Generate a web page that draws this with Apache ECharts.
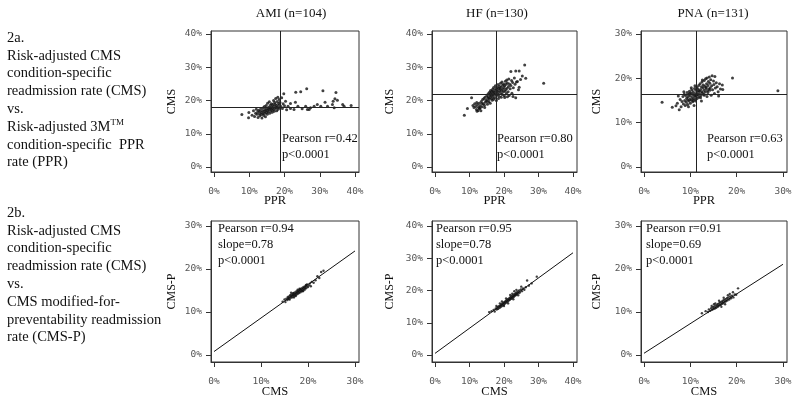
<!DOCTYPE html>
<html><head><meta charset="utf-8">
<script src="https://cdn.jsdelivr.net/npm/echarts@6/dist/echarts.min.js"></script>
<style>html,body{margin:0;padding:0;background:#fff}#c{width:800px;height:402px}</style>
</head><body><div id="c"></div>
<script>
// ---------------- DATA ----------------
const conditionTitles = ['AMI (n=104)', 'HF (n=130)', 'PNA (n=131)'];
const topXMax = [40, 40, 30];
const topYMax = [40, 40, 30];
const botXMax = [30, 40, 30];
const botYMax = [30, 40, 30];
const tickStep = 10;
const topXName = 'PPR', topYName = 'CMS', botXName = 'CMS', botYName = 'CMS-P';

// 2a: [PPR %, CMS %]
const amiTop = [[7.9,15.8],[9.8,14.8],[9.9,16.4],[10.8,15.6],[11.2,16.9],[11.5,15.2],[11.8,16.2],[12.0,17.4],[12.2,15.9],[12.4,16.6],[12.5,14.9],[12.7,17.1],[12.9,16.1],[13.0,15.4],[13.1,16.8],[13.3,17.6],[13.4,15.8],[13.5,16.4],[13.6,14.7],[13.8,17.0],[13.9,16.0],[14.0,17.8],[14.1,15.5],[14.2,16.7],[14.3,18.2],[14.4,16.2],[14.5,17.3],[14.6,15.1],[14.7,16.9],[14.8,18.5],[14.9,16.4],[15.0,17.6],[15.1,15.9],[15.2,19.2],[15.3,17.1],[15.4,16.6],[15.5,18.0],[15.6,17.4],[15.7,19.6],[15.8,16.2],[15.9,17.8],[16.0,18.6],[16.1,16.9],[16.2,17.4],[16.3,19.0],[16.4,18.1],[16.5,16.5],[16.6,17.7],[16.7,18.8],[16.8,17.2],[16.9,20.0],[17.0,18.3],[17.1,16.8],[17.2,19.4],[17.3,17.6],[17.4,18.9],[17.5,20.6],[17.6,17.9],[17.7,18.5],[17.8,16.9],[17.9,19.7],[18.0,18.0],[18.1,21.0],[18.2,17.4],[18.3,19.1],[18.4,18.6],[18.5,20.3],[18.6,17.8],[18.7,19.5],[19.0,18.2],[19.2,20.8],[19.4,17.6],[19.6,19.0],[19.8,22.0],[20.0,18.4],[20.3,19.8],[20.6,17.2],[21.0,18.3],[21.7,19.1],[21.7,17.6],[22.7,17.3],[23.1,19.5],[23.2,22.5],[23.8,18.3],[24.6,22.6],[25.0,17.5],[26.0,18.3],[26.3,23.5],[26.5,17.3],[27.0,17.3],[27.4,17.8],[28.4,18.3],[29.3,18.8],[30.3,18.3],[30.9,22.9],[31.5,19.5],[32.2,18.3],[33.6,18.8],[33.8,19.8],[34.1,17.8],[34.3,20.5],[34.6,22.4],[35.0,20.1],[36.5,18.8],[36.9,18.3],[38.9,18.5]];
const hfTop = [[8.5,15.6],[9.4,17.6],[10.6,20.8],[11.0,18.5],[11.3,17.9],[11.5,19.0],[11.8,18.2],[12.0,17.3],[12.1,19.4],[12.3,18.7],[12.5,17.0],[12.6,18.0],[12.8,19.2],[12.9,17.6],[13.1,18.4],[13.3,16.9],[13.4,19.7],[13.6,18.1],[13.8,20.3],[14.0,19.0],[14.2,20.6],[14.3,18.6],[14.5,21.0],[14.6,19.5],[14.8,20.1],[15.0,21.4],[15.1,19.8],[15.3,20.7],[15.4,22.0],[15.5,21.1],[15.7,20.4],[15.8,22.5],[15.9,21.7],[16.0,20.9],[16.1,23.0],[16.2,22.2],[16.3,21.4],[16.4,20.6],[16.5,22.8],[16.6,21.9],[16.7,23.4],[16.8,21.2],[16.9,22.6],[17.0,23.9],[17.1,21.8],[17.2,22.4],[17.3,20.8],[17.4,23.1],[17.5,24.4],[17.6,22.0],[17.7,23.6],[17.8,21.5],[17.9,22.8],[18.0,24.0],[18.1,23.2],[18.2,21.9],[18.3,24.8],[18.4,22.5],[18.5,23.7],[18.6,21.3],[18.7,24.3],[18.8,22.9],[18.9,23.5],[19.0,25.2],[19.1,22.2],[19.2,24.0],[19.3,23.0],[19.4,25.6],[19.5,21.8],[19.6,24.6],[19.7,23.4],[19.8,22.6],[19.9,25.0],[20.0,23.9],[20.1,21.4],[20.2,24.4],[20.3,22.8],[20.4,25.8],[20.5,23.3],[20.6,24.9],[20.7,22.1],[20.8,26.2],[20.9,23.7],[21.0,25.3],[21.2,22.6],[21.3,24.2],[21.4,26.5],[21.5,21.5],[21.6,25.0],[21.8,23.5],[22.0,28.7],[22.0,24.5],[22.2,26.0],[22.3,22.2],[22.5,25.4],[22.7,23.8],[23.0,26.8],[23.2,24.9],[23.4,28.9],[23.4,20.8],[23.6,25.6],[23.9,25.7],[24.2,23.2],[24.4,24.0],[24.4,28.9],[24.8,26.3],[25.3,27.4],[26.0,30.7],[26.3,26.7],[31.5,25.2],[12.2,16.8],[13.0,17.7],[13.6,19.1],[14.4,17.9],[15.2,18.9],[15.6,19.6],[16.0,19.2],[16.6,20.1],[17.0,20.4],[17.8,20.0],[18.4,20.6],[19.2,21.0],[20.2,20.9],[21.0,21.1],[22.6,21.2]];
const pnaTop = [[3.9,14.6],[6.1,13.5],[6.9,13.8],[7.6,12.9],[7.2,14.4],[7.8,15.2],[8.0,13.6],[8.2,14.8],[8.4,15.9],[8.5,14.2],[8.7,16.4],[8.8,15.0],[8.9,13.9],[9.0,16.1],[9.1,14.6],[9.2,15.5],[9.3,16.8],[9.4,14.1],[9.5,15.8],[9.6,16.3],[9.7,14.9],[9.8,17.1],[9.9,15.3],[10.0,16.0],[10.0,14.4],[10.1,16.7],[10.2,15.1],[10.3,17.4],[10.4,15.7],[10.5,16.4],[10.5,14.7],[10.6,17.0],[10.7,15.4],[10.8,16.2],[10.9,17.7],[11.0,15.9],[11.0,16.6],[11.1,14.9],[11.2,17.3],[11.3,16.0],[11.4,18.0],[11.5,15.5],[11.5,16.9],[11.6,17.6],[11.7,16.3],[11.8,18.4],[11.9,15.8],[12.0,17.1],[12.0,16.5],[12.1,18.8],[12.2,17.5],[12.3,16.1],[12.4,18.1],[12.5,17.0],[12.5,19.2],[12.6,16.7],[12.7,17.8],[12.8,18.5],[12.9,16.4],[13.0,19.5],[13.0,17.3],[13.1,18.2],[13.2,16.9],[13.3,19.9],[13.4,17.7],[13.5,18.8],[13.6,20.1],[13.7,17.2],[13.8,18.4],[13.9,19.3],[14.0,17.6],[14.1,20.3],[14.2,18.9],[14.3,17.9],[14.4,19.7],[14.6,18.3],[14.7,20.6],[14.8,17.4],[15.0,19.4],[15.1,18.6],[15.3,20.4],[15.4,17.8],[15.6,19.0],[15.8,18.1],[16.0,17.0],[16.3,18.8],[16.5,17.6],[16.9,18.5],[17.0,17.5],[19.1,20.1],[28.9,17.2],[9.4,15.1],[9.8,16.6],[10.2,17.9],[10.6,15.0],[11.0,18.3],[11.4,16.4],[11.8,17.2],[12.2,15.6],[12.6,19.6],[13.0,16.2],[13.4,18.0],[13.8,16.8],[14.2,17.3],[10.8,13.9],[12.4,14.9],[8.6,17.0],[9.6,13.6],[11.2,15.3],[13.6,15.9],[14.5,16.2],[15.2,16.6],[16.1,16.0],[7.4,16.0]];

// 2b: [CMS %, CMS-P %]
const amiBot = [[14.6,12.4],[15.0,12.9],[15.2,12.3],[15.4,13.1],[15.6,12.8],[15.7,13.5],[15.9,13.0],[16.0,13.6],[16.1,12.9],[16.2,13.9],[16.3,13.3],[16.4,13.7],[16.5,14.1],[16.6,13.4],[16.7,13.9],[16.8,14.3],[16.9,13.6],[17.0,14.0],[17.1,14.5],[17.2,13.8],[17.3,14.2],[17.4,14.7],[17.5,14.0],[17.6,14.4],[17.7,14.9],[17.8,14.2],[17.9,14.6],[18.0,15.0],[18.1,14.4],[18.2,14.8],[18.3,15.3],[18.4,14.6],[18.5,15.0],[18.6,15.5],[18.7,14.9],[18.8,15.2],[18.9,15.7],[19.0,15.0],[19.1,15.4],[19.2,15.9],[19.3,15.2],[19.4,15.6],[19.5,16.1],[19.6,15.5],[19.7,15.9],[19.8,16.4],[20.0,15.8],[20.2,16.2],[20.4,16.6],[20.6,16.0],[20.8,17.0],[21.2,16.8],[21.6,17.4],[22.0,18.3],[22.4,17.9],[22.8,19.3],[23.3,19.6],[15.8,13.2],[16.9,14.4],[17.4,13.7],[18.2,15.4],[18.9,14.8],[19.6,16.3],[17.0,13.4],[16.4,14.5],[17.8,15.2]];
const hfBot = [[15.7,13.3],[16.4,13.6],[17.0,14.0],[17.3,13.5],[17.6,14.4],[17.9,14.1],[18.1,14.8],[18.3,14.3],[18.5,15.1],[18.7,14.6],[18.9,15.4],[19.0,14.9],[19.2,15.7],[19.3,15.1],[19.5,15.9],[19.6,15.4],[19.8,16.2],[19.9,15.6],[20.1,16.4],[20.2,15.9],[20.4,16.7],[20.5,16.1],[20.7,16.9],[20.8,16.4],[21.0,17.2],[21.1,16.6],[21.3,17.4],[21.4,16.9],[21.6,17.7],[21.7,17.1],[21.9,17.9],[22.0,17.4],[22.2,18.2],[22.3,17.6],[22.5,18.4],[22.6,17.9],[22.8,18.7],[22.9,18.1],[23.1,18.9],[23.2,18.4],[23.4,19.2],[23.5,18.6],[23.7,19.4],[23.8,18.9],[24.0,19.7],[24.2,19.1],[24.4,20.0],[24.6,19.4],[24.9,20.3],[25.2,19.8],[25.5,20.6],[25.9,20.2],[26.3,21.0],[26.7,23.1],[27.2,21.5],[28.0,22.2],[29.5,24.3],[19.4,16.6],[20.6,17.5],[21.8,18.6],[22.4,19.0],[23.6,20.2],[20.0,15.2],[21.2,16.0],[22.7,17.3],[24.1,18.5],[18.8,16.0],[17.8,15.2],[25.0,21.2],[23.0,19.8]];
const pnaBot = [[12.5,9.7],[13.3,10.2],[13.8,10.0],[14.0,10.6],[14.3,10.3],[14.5,10.9],[14.7,10.5],[14.9,11.1],[15.0,10.7],[15.2,11.3],[15.3,10.8],[15.5,11.5],[15.6,11.0],[15.8,11.7],[15.9,11.2],[16.0,11.9],[16.1,11.4],[16.3,12.1],[16.4,11.6],[16.5,12.3],[16.6,11.7],[16.8,12.4],[16.9,11.9],[17.0,12.6],[17.1,12.1],[17.3,12.8],[17.4,12.3],[17.6,13.0],[17.7,12.5],[17.9,13.2],[18.0,12.7],[18.2,13.4],[18.4,12.9],[18.6,13.6],[18.8,13.2],[19.0,13.8],[19.3,13.4],[19.6,14.1],[19.9,14.0],[20.3,15.5],[15.4,12.0],[16.2,12.6],[17.2,13.3],[18.1,13.9],[16.7,11.2],[17.5,11.8],[15.1,11.8],[14.6,11.4],[18.5,14.2],[19.2,14.6]];

// reference lines (means) for 2a, fitted lines for 2b (end points)
const refPPR = [18.8, 17.7, 11.3];
const refCMS = [18.1, 22.0, 16.4];
const fitAMI = [[0, 0.8], [30, 24.2]];
const fitHF  = [[0, 0.5], [40, 31.7]];
const fitPNA = [[0, 0.4], [30, 21.1]];

const topStats = [['Pearson r=0.42', 'p<0.0001'], ['Pearson r=0.80', 'p<0.0001'], ['Pearson r=0.63', 'p<0.0001']];
const botStats = [['Pearson r=0.94', 'slope=0.78', 'p<0.0001'], ['Pearson r=0.95', 'slope=0.78', 'p<0.0001'], ['Pearson r=0.91', 'slope=0.69', 'p<0.0001']];

const textA = ['2a.', 'Risk-adjusted CMS', 'condition-specific', 'readmission rate (CMS)', 'vs.', 'Risk-adjusted 3M{sup|TM}', 'condition-specific  PPR', 'rate (PPR)'];
const textB = ['2b.', 'Risk-adjusted CMS', 'condition-specific', 'readmission rate (CMS)', 'vs.', 'CMS modified-for-', 'preventability readmission', 'rate (CMS-P)'];

// ---------------- LAYOUT ----------------
const SERIF = '"Liberation Serif", "Times New Roman", serif';
const colLeft = [211, 432, 641];
const colWidth = [148, 145, 146];
const rowTop = [31, 221];
const rowHeight = [141, 141];
const padX = [3, 4];
const padYTop = [[3, 5], [5, 7]];
const yNameGap = [33, 36, 38];
const topData = [amiTop, hfTop, pnaTop];
const botData = [amiBot, hfBot, pnaBot];
const fits = [fitAMI, fitHF, fitPNA];

function ticks(max) { const a = []; for (let v = 0; v <= max; v += tickStep) a.push(v); return a; }
function range(max, lenPx, p0, p1) {
  const per = max / (lenPx - p0 - p1);
  return { min: -p0 * per, max: max + p1 * per };
}
const labelStyle = { fontFamily: '"DejaVu Sans Mono", monospace', fontSize: 9.5, color: '#555' };

const grids = [], xAxes = [], yAxes = [], series = [], graphics = [];
for (let r = 0; r < 2; r++) {
  for (let c = 0; c < 3; c++) {
    const gi = r * 3 + c;
    grids.push({ left: colLeft[c], top: rowTop[r], width: colWidth[c], height: rowHeight[r], show: true, borderColor: '#333', borderWidth: 1, backgroundColor: 'transparent' });
    const xm = r === 0 ? topXMax[c] : botXMax[c];
    const ym = r === 0 ? topYMax[c] : botYMax[c];
    const xr = range(xm, colWidth[c], padX[0], padX[1]);
    const yr = range(ym, rowHeight[r], padYTop[r][1], padYTop[r][0]);
    xAxes.push({
      type: 'value', gridIndex: gi, min: xr.min, max: xr.max,
      name: r === 0 ? topXName : botXName, nameLocation: 'middle', nameGap: r === 0 ? 22 : 23,
      nameMoveOverlap: false,
      nameTextStyle: { fontFamily: SERIF, fontSize: 12.5, color: '#111', padding: [0, 20, 0, 0] },
      axisLine: { show: true, onZero: false, lineStyle: { color: '#333', width: 1 } },
      axisTick: { show: true, length: 5, inside: false, customValues: ticks(xm), lineStyle: { color: '#333' } },
      axisLabel: { show: true, customValues: ticks(xm), margin: 15, formatter: v => v + '%', ...labelStyle },
      splitLine: { show: false }
    });
    yAxes.push({
      type: 'value', gridIndex: gi, min: yr.min, max: yr.max,
      name: r === 0 ? topYName : botYName, nameLocation: 'middle', nameGap: yNameGap[c],
      nameMoveOverlap: false,
      nameTextStyle: { fontFamily: SERIF, fontSize: 12, color: '#111' },
      axisLine: { show: true, onZero: false, lineStyle: { color: '#333', width: 1 } },
      axisTick: { show: true, length: 5, inside: false, customValues: ticks(ym), lineStyle: { color: '#333' } },
      axisLabel: { show: true, customValues: ticks(ym), margin: 9, formatter: v => v + '%', ...labelStyle },
      splitLine: { show: false }
    });
    const pts = r === 0 ? topData[c] : botData[c];
    const s = {
      type: 'scatter', xAxisIndex: gi, yAxisIndex: gi, data: pts,
      symbol: 'circle', symbolSize: r === 0 ? 3 : 2.4,
      itemStyle: { color: '#111' }, silent: true, animation: false
    };
    if (r === 0) {
      s.markLine = {
        silent: true, symbol: 'none', animation: false,
        label: { show: false },
        lineStyle: { color: '#222', width: 1, type: 'solid' },
        data: [{ xAxis: refPPR[c] }, { yAxis: refCMS[c] }]
      };
    }
    series.push(s);
    if (r === 1) {
      series.push({
        type: 'line', xAxisIndex: gi, yAxisIndex: gi, data: fits[c],
        showSymbol: false, symbol: 'none', lineStyle: { color: '#111', width: 1 }, silent: true, animation: false
      });
    }
  }
}

const titleX = [291, 497, 713];
conditionTitles.forEach((t, i) => graphics.push({ type: 'text', x: titleX[i], y: 14, style: { text: t, font: '13px ' + SERIF, fill: '#111', textAlign: 'center', textVerticalAlign: 'middle' } }));
const topStatX = [282, 497, 707];
topStats.forEach((t, i) => graphics.push({ type: 'text', x: topStatX[i], y: 130, style: { text: t.join('\n'), font: '12.5px ' + SERIF, lineHeight: 16.5, fill: '#111', textAlign: 'left', textVerticalAlign: 'top' } }));
const botStatX = [218, 436, 646];
botStats.forEach((t, i) => graphics.push({ type: 'text', x: botStatX[i], y: 221, style: { text: t.join('\n'), font: '12.5px ' + SERIF, lineHeight: 15.7, fill: '#111', textAlign: 'left', textVerticalAlign: 'top' } }));
const richSup = { sup: { fontSize: 9, fontFamily: SERIF, verticalAlign: 'top', lineHeight: 17.8, padding: [0, 0, 6, 0] } };
graphics.push({ type: 'text', x: 7, y: 29, style: { text: textA.join('\n'), font: '14.5px ' + SERIF, lineHeight: 17.8, fill: '#111', rich: richSup, textAlign: 'left', textVerticalAlign: 'top' } });
graphics.push({ type: 'text', x: 7, y: 204, style: { text: textB.join('\n'), font: '14.5px ' + SERIF, lineHeight: 17.8, fill: '#111', textAlign: 'left', textVerticalAlign: 'top' } });

const chart = echarts.init(document.getElementById('c'), null, { renderer: 'canvas' });
chart.setOption({
  backgroundColor: '#fff', animation: false,
  grid: grids, xAxis: xAxes, yAxis: yAxes, series: series, graphic: graphics
});
</script></body></html>
